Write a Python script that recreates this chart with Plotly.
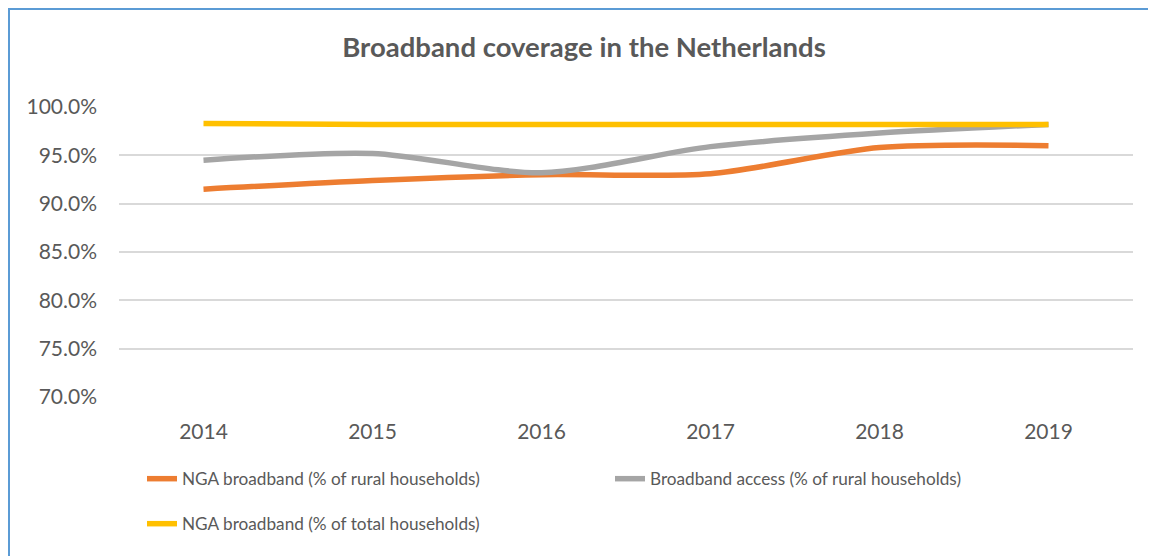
import plotly.graph_objects as go

years = ["2014", "2015", "2016", "2017", "2018", "2019"]
nga_rural = [91.5, 92.4, 93.0, 93.1, 95.8, 96.0]
bb_rural = [94.5, 95.2, 93.2, 95.9, 97.3, 98.2]
nga_total = [98.3, 98.2, 98.2, 98.2, 98.2, 98.2]

names = ["NGA broadband (% of rural households)",
         "Broadband access (% of rural households)",
         "NGA broadband (% of total households)"]
colors = ["#ED7D31", "#A5A5A5", "#FFC000"]

OFF = 8  # page body margin
W, H = 1156 - OFF, 556 - OFF
L, R, T, B = 119 - OFF, 23, 107 - OFF, 159
pw, ph = W - L - R, H - T - B

def px_x(p):
    return (p - OFF - L) / pw

def px_y(p):
    return (H - B - (p - OFF)) / ph

fig = go.Figure()
series = [nga_rural, bb_rural, nga_total]
legends = ["legend", "legend", "legend2"]
for vals, name, col, lg in zip(series, names, colors, legends):
    fig.add_trace(go.Scatter(
        x=years, y=vals, name=name, mode="lines",
        line=dict(color=col, width=5.5, shape="spline", smoothing=0.8),
        legend=lg,
    ))

txt = "#595959"
legfont = dict(family="Lato, sans-serif", size=17.2, color=txt)
fig.update_layout(
    width=W, height=H,
    margin=dict(l=L, r=R, t=T, b=B),
    paper_bgcolor="white", plot_bgcolor="white",
    title=dict(text="<b>Broadband coverage in the Netherlands</b>",
               x=px_x(584), xanchor="center", xref="paper",
               y=1 - (47 - OFF) / H, yanchor="middle",
               font=dict(family="Lato, Open Sans, sans-serif", size=27.5, color=txt)),
    xaxis=dict(type="category", range=[-0.5, 5.5], showgrid=False,
               showline=False, zeroline=False, ticks="",
               tickfont=dict(family="Lato, sans-serif", size=21, color=txt),
               ticklabelstandoff=20),
    yaxis=dict(range=[70, 100], dtick=5, tickformat=".1f", ticksuffix="%",
               showgrid=True, gridcolor="#D9D9D9", gridwidth=1.5,
               zeroline=False, showline=False, ticks="",
               tickfont=dict(family="Lato, sans-serif", size=21, color=txt),
               ticklabelstandoff=21),
    legend=dict(orientation="h", x=px_x(142), xanchor="left",
                y=px_y(479), yanchor="middle", entrywidth=423,
                entrywidthmode="pixels", traceorder="normal",
                font=legfont, bgcolor="rgba(0,0,0,0)"),
    legend2=dict(orientation="h", x=px_x(142), xanchor="left",
                 y=px_y(524), yanchor="middle",
                 font=legfont, bgcolor="rgba(0,0,0,0)"),
    shapes=[dict(type="rect", xref="paper", yref="paper",
                 x0=px_x(OFF + 1), x1=px_x(1300), y0=px_y(700), y1=px_y(OFF + 1),
                 line=dict(color="#5B9BD5", width=2), layer="below")],
)

fig.write_html("out.html")
